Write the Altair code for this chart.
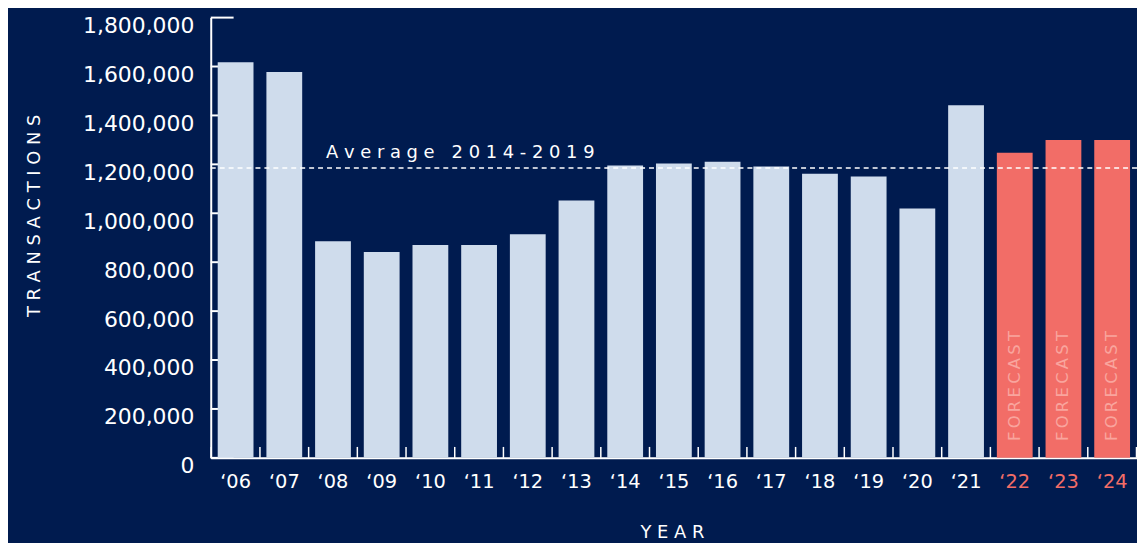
import altair as alt
import pandas as pd

years = ["\u201806", "\u201807", "\u201808", "\u201809", "\u201810", "\u201811", "\u201812",
         "\u201813", "\u201814", "\u201815", "\u201816", "\u201817", "\u201818", "\u201819",
         "\u201820", "\u201821", "\u201822", "\u201823", "\u201824"]
transactions = [1617000, 1578000, 886000, 842000, 870000, 870000, 914000,
                1052000, 1195000, 1203000, 1211000, 1191000, 1162000, 1150000,
                1020000, 1442000, 1247000, 1300000, 1300000]
kinds = ["Actual"] * 16 + ["Forecast"] * 3
forecast_years = years[16:]
avg_2014_2019 = [1185000]
y_ticks = [0, 200000, 400000, 600000, 800000, 1000000, 1200000, 1400000, 1600000, 1800000]

BG = "#001b4f"
BAR = "#cfdcec"
FC = "#f26d67"
FONT = "DejaVu Sans"

W, H = 932, 443

df = pd.DataFrame({"year": years, "value": transactions, "kind": kinds})
avg_df = pd.DataFrame({"avg": avg_2014_2019,
                       "label": ["A v e r a g e\u00a0\u00a0\u00a02 0 1 4 - 2 0 1 9"]})
tick_df = pd.DataFrame({"value": y_ticks})

xscale = alt.Scale(domain=years, paddingInner=0.265, paddingOuter=0.143)
yscale = alt.Scale(domain=[0, 1800000], nice=False, zero=True)

fc_list = "[" + ",".join("'" + y + "'" for y in forecast_years) + "]"

x_axis = alt.Axis(
    title="Y E A R", titleColor="white", titleFont=FONT, titleFontSize=18,
    titleFontWeight="normal", titleX=464, titleY=75, titleBaseline="middle",
    titleAlign="center", titleAnchor="start",
    labelAngle=0, labelFont=FONT, labelFontSize=19.5, labelPadding=15,
    labelColor=alt.ExprRef(expr=f"indexof({fc_list}, datum.value) >= 0 ? '{FC}' : 'white'"),
    ticks=False, tickSize=0, domainColor="white", domainWidth=2, grid=False,
)
y_axis = alt.Axis(
    title="T R A N S A C T I O N S", titleColor="white", titleFont=FONT, titleFontSize=18,
    titleFontWeight="normal", titleAngle=270, titleX=-177, titleY=199,
    titleAlign="center", titleBaseline="middle", titleAnchor="start",
    values=y_ticks, format=",d", labelFont=FONT, labelFontSize=22, labelColor="white",
    labelPadding=17, labelOffset=8, ticks=False, tickSize=0,
    domainColor="white", domainWidth=2, grid=False,
)

X = lambda **kw: alt.X("year:N", scale=xscale, axis=x_axis, sort=years, **kw)
Y = lambda f: alt.Y(f, scale=yscale, axis=y_axis)

ytick_rules = alt.Chart(tick_df).mark_rule(color="white", strokeWidth=2).encode(
    y=Y("value:Q"),
    x=alt.value(0), x2=alt.value(23),
)

bars = alt.Chart(df).mark_bar().encode(
    x=X(),
    y=Y("value:Q"),
    color=alt.Color("kind:N", scale=alt.Scale(domain=["Actual", "Forecast"], range=[BAR, FC]),
                    legend=None),
)

xticks = alt.Chart(df).mark_rule(color="white", strokeWidth=1.5, xOffset=-6.5).encode(
    x=X(bandPosition=0),
    y=alt.value(H), y2=alt.value(H - 11),
)
xtick_end = alt.Chart(df).transform_filter(
    alt.datum.year == years[-1]
).mark_rule(color="white", strokeWidth=1.5, xOffset=6.5).encode(
    x=X(bandPosition=1),
    y=alt.value(H), y2=alt.value(H - 11),
)

fc_text = alt.Chart(df).transform_filter(
    alt.datum.kind == "Forecast"
).mark_text(angle=270, align="left", baseline="middle", font=FONT, fontSize=16.5,
            color="#f9a59e", text="F\u2009O\u2009R\u2009E\u2009C\u2009A\u2009S\u2009T").encode(
    x=X(),
    y=alt.value(H - 17),
)

avg_rule = alt.Chart(avg_df).mark_rule(color="white", strokeWidth=1.5, strokeDash=[5, 4]).encode(
    y=Y("avg:Q"),
    x=alt.value(0), x2=alt.value(W),
)
avg_text = alt.Chart(avg_df).mark_text(align="left", baseline="middle", dy=-15, font=FONT,
                                       fontSize=18, color="white").encode(
    y=Y("avg:Q"),
    x=alt.value(116),
    text="label:N",
)

chart = alt.layer(ytick_rules, bars, xticks, xtick_end, fc_text, avg_rule, avg_text).properties(
    width=W, height=H,
    autosize=alt.AutoSizeParams(type="none"),
    padding={"left": 204, "top": 8, "right": 0, "bottom": 84},
    background=BG,
).configure_view(stroke=None)

chart.save("out.html", embed_options={"renderer": "svg", "actions": False})
